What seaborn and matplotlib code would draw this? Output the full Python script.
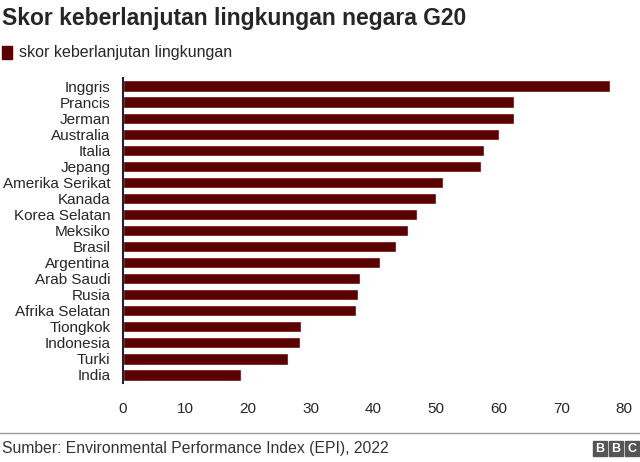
import matplotlib
matplotlib.use("Agg")
import matplotlib.pyplot as plt
import seaborn as sns
import pandas as pd

# data (EPI 2022)
countries = ["Inggris", "Prancis", "Jerman", "Australia", "Italia", "Jepang",
             "Amerika Serikat", "Kanada", "Korea Selatan", "Meksiko", "Brasil",
             "Argentina", "Arab Saudi", "Rusia", "Afrika Selatan", "Tiongkok",
             "Indonesia", "Turki", "India"]
scores = [77.7, 62.5, 62.4, 60.1, 57.7, 57.2, 51.1, 50.0, 46.9, 45.5, 43.6,
          41.1, 37.9, 37.5, 37.2, 28.4, 28.2, 26.3, 18.9]
ticks = [0, 10, 20, 30, 40, 50, 60, 70, 80]

df = pd.DataFrame({"negara": countries, "skor": scores})

sns.set_style("white")
plt.rcParams['font.family'] = ['Liberation Sans', 'DejaVu Sans']

fig = plt.figure(figsize=(6.4, 4.62), dpi=100)
ax = fig.add_axes([123 / 640, 1 - 383 / 462, (624 - 123) / 640, (383 - 78) / 462])

bar_color = "#5a0000"
sns.barplot(data=df, x="skor", y="negara", color=bar_color, saturation=1,
            width=0.7, ax=ax)

ax.set_xlim(0, 80)
ax.set_ylim(18.5, -0.5)
ax.set_xticks(ticks)
ax.set_xticklabels([str(t) for t in ticks], fontsize=11)
ax.tick_params(axis="y", labelsize=11, length=0, pad=9)
ax.tick_params(axis="x", length=0, pad=14)
ax.set_xlabel("")
ax.set_ylabel("")
for s in ["top", "right", "bottom"]:
    ax.spines[s].set_visible(False)
ax.spines["left"].set_color("#222222")
ax.spines["left"].set_linewidth(1.5)

# title and legend
fig.text(0.003, 1 - 18 / 462, "Skor keberlanjutan lingkungan negara G20",
         fontsize=16.5, fontweight="bold", va="center", ha="left")
fig.patches.append(plt.Rectangle((2 / 640, 1 - 59 / 462), 10 / 640, 13 / 462,
                                 transform=fig.transFigure, color=bar_color))
fig.text(19 / 640, 1 - 53 / 462, "skor keberlanjutan lingkungan",
         fontsize=11.5, va="center", ha="left")

# footer
fig.add_artist(plt.Line2D([0, 1], [1 - 433 / 462] * 2, color="#999999", lw=1,
                          transform=fig.transFigure))
fig.text(0.003, 1 - 448 / 462, "Sumber: Environmental Performance Index (EPI), 2022",
         fontsize=11.3, color="#333333", va="center", ha="left")
for i, ch in enumerate("BBC"):
    x0 = (593 + i * 16) / 640
    fig.patches.append(plt.Rectangle((x0, 1 - 456 / 462), 14 / 640, 15 / 462,
                                     transform=fig.transFigure, color="#555555"))
    fig.text(x0 + 7 / 640, 1 - 448.5 / 462, ch, fontsize=9, fontweight="bold",
             color="white", ha="center", va="center")

fig.savefig("out.png", dpi=100)
